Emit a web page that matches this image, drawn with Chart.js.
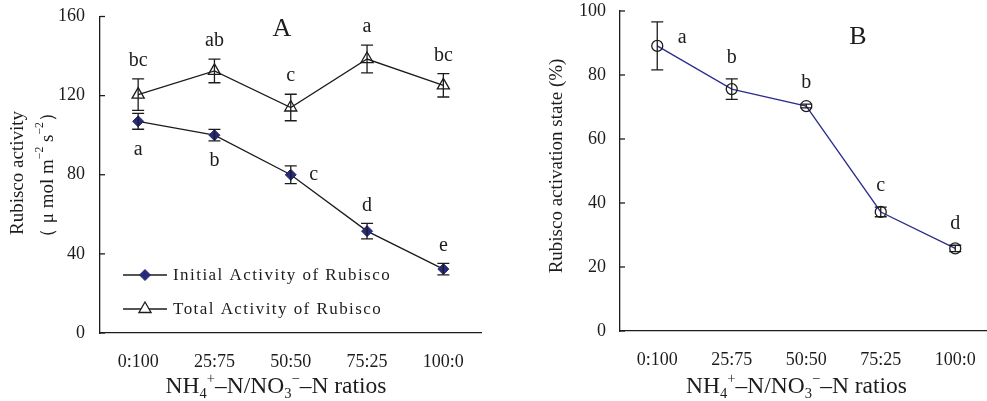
<!DOCTYPE html>
<html>
<head>
<meta charset="utf-8">
<script src="https://cdn.jsdelivr.net/npm/chart.js@4/dist/chart.umd.min.js"></script>
<style>
html, body { margin: 0; padding: 0; background: #fff; overflow: hidden; width: 987px; height: 401px; }
.wrap { position: absolute; top: 0; }
#wrapA { left: 0; width: 490px; height: 401px; }
#wrapB { left: 500px; width: 500px; height: 401px; }
</style>
</head>
<body>
<div class="wrap" id="wrapA"><canvas id="chartA" width="490" height="401"></canvas></div>
<div class="wrap" id="wrapB"><canvas id="chartB" width="500" height="401"></canvas></div>
<script>
// data

const categories = ['0:100', '25:75', '50:50', '75:25', '100:0'];

const initialActivity = [107, 100, 80, 51.5, 32.3];
const initialErr = [4, 2.9, 4.5, 3.9, 2.9];
const initialLetters = ['a', 'b', 'c', 'd', 'e'];

const totalActivity = [120.5, 132.5, 114, 138.5, 125.2];
const totalErr = [8, 6, 6.7, 7, 5.9];
const totalLetters = ['bc', 'ab', 'c', 'a', 'bc'];

const activationState = [89.1, 75.6, 70.3, 37.2, 25.8];
const activationErr = [7.5, 3.2, 0.6, 1.5, 1];
const activationLetters = ['a', 'b', 'b', 'c', 'd'];

const SERIF = "'Liberation Serif', 'Times New Roman', serif";
const INK = '#1c1c1c';

// x title pieces (sub / sup)
const xTitle = [
  { t: 'NH' }, { t: '4', s: 'sub' }, { t: '+', s: 'sup' }, { t: '\u2013N/NO' },
  { t: '3', s: 'sub' }, { t: '\u2212', s: 'sup' }, { t: '\u2013N ratios' }
];

function drawRich(ctx, parts, x, y, size, align) {
  let total = 0;
  parts.forEach(p => {
    ctx.font = (p.s ? size * 0.62 : size) + 'px ' + SERIF;
    total += ctx.measureText(p.t).width;
  });
  let cx = align === 'center' ? x - total / 2 : x;
  ctx.textAlign = 'left';
  parts.forEach(p => {
    const fs = p.s ? size * 0.62 : size;
    ctx.font = fs + 'px ' + SERIF;
    const dy = p.s === 'sub' ? size * 0.22 : p.s === 'sup' ? -size * 0.42 : 0;
    ctx.fillText(p.t, cx, y + dy);
    cx += ctx.measureText(p.t).width;
  });
}

// error bars + letters
const errorBars = {
  id: 'errorBars',
  afterDatasetsDraw(chart, args, opts) {
    const ctx = chart.ctx;
    const y = chart.scales.y;
    ctx.save();
    ctx.strokeStyle = INK;
    ctx.lineWidth = 1.3;
    chart.data.datasets.forEach((ds, i) => {
      const meta = chart.getDatasetMeta(i);
      meta.data.forEach((pt, j) => {
        const top = y.getPixelForValue(ds.data[j] + ds.errors[j]);
        const bot = y.getPixelForValue(ds.data[j] - ds.errors[j]);
        ctx.beginPath();
        ctx.moveTo(pt.x, top); ctx.lineTo(pt.x, bot);
        ctx.moveTo(pt.x - opts.cap, top); ctx.lineTo(pt.x + opts.cap, top);
        ctx.moveTo(pt.x - opts.cap, bot); ctx.lineTo(pt.x + opts.cap, bot);
        ctx.stroke();

        // significance letter
        const where = ds.letterPos[j];
        let lx = pt.x, ly;
        if (where === 'above') ly = top - opts.gap;
        else if (where === 'below') ly = bot + opts.gap + 2;
        else if (where === 'right') { lx = pt.x + 23; ly = pt.y; }
        else { lx = pt.x + 25; ly = pt.y - 8; }
        ctx.fillStyle = INK;
        ctx.font = '20px ' + SERIF;
        ctx.textAlign = 'center';
        ctx.textBaseline = 'middle';
        ctx.fillText(ds.letters[j], lx, ly);
      });
    });
    ctx.restore();
  }
};

// inward y ticks, titles, panel letter, legend
const decor = {
  id: 'decor',
  afterDraw(chart, args, opts) {
    const ctx = chart.ctx;
    const ys = chart.scales.y;
    const left = chart.chartArea.left;
    ctx.save();
    ctx.strokeStyle = INK;
    ctx.lineWidth = 1.3;
    ys.ticks.forEach(t => {
      const py = ys.getPixelForValue(t.value);
      ctx.beginPath();
      ctx.moveTo(left, py); ctx.lineTo(left + 5, py);
      ctx.stroke();
    });

    ctx.fillStyle = INK;
    ctx.textBaseline = 'alphabetic';
    drawRich(ctx, xTitle, opts.xTitleX, 393, 23.5, 'center');

    // y title
    ctx.save();
    ctx.translate(opts.yTitleX, opts.yTitleY);
    ctx.rotate(-Math.PI / 2);
    ctx.textBaseline = 'middle';
    ctx.font = '19px ' + SERIF;
    ctx.textAlign = 'center';
    ctx.fillText(opts.yTitle, 0, 0);
    ctx.restore();
    if (opts.yUnit) {
      ctx.save();
      ctx.translate(opts.yTitleX + 30, opts.yTitleY + 2);
      ctx.rotate(-Math.PI / 2);
      ctx.textBaseline = 'middle';
      drawRich(ctx, opts.yUnit, 0, 0, 19, 'center');
      ctx.restore();
    }

    // panel letter
    ctx.font = '26px ' + SERIF;
    ctx.textAlign = 'center';
    ctx.textBaseline = 'middle';
    ctx.fillText(opts.panel, opts.panelX, opts.panelY);

    // legend
    if (opts.legend) {
      chart.data.datasets.forEach((ds, i) => {
        const ly = opts.legendY[i];
        ctx.strokeStyle = ds.borderColor;
        ctx.lineWidth = ds.borderWidth;
        ctx.beginPath();
        ctx.moveTo(123, ly); ctx.lineTo(167, ly);
        ctx.stroke();
        ctx.fillStyle = ds.pointStyle === 'triangle' ? '#fff' : ds.pointBackgroundColor;
        ctx.strokeStyle = ds.pointBorderColor;
        ctx.lineWidth = ds.pointBorderWidth;
        Chart.helpers.drawPoint(ctx, {
          pointStyle: ds.pointStyle, radius: ds.pointRadius, borderWidth: ds.pointBorderWidth, rotation: 0
        }, 145, ly);
        ctx.fillStyle = INK;
        ctx.font = '17px ' + SERIF;
        ctx.letterSpacing = '1.45px';
        ctx.textAlign = 'left';
        ctx.textBaseline = 'middle';
        ctx.fillText(ds.label, 173, ly + 1);
        ctx.letterSpacing = '0px';
      });
    }
    ctx.restore();
  }
};

function axes(yMax, step, yWidth, xHeight, labelPad) {
  return {
    x: {
      offset: true,
      grid: { display: false, drawTicks: false },
      border: { color: INK, width: 1.3 },
      ticks: { color: INK, font: { family: SERIF, size: 18 }, padding: 18 },
      afterFit: s => { s.height = xHeight; s.paddingLeft = 0; s.paddingRight = 0; }
    },
    y: {
      min: 0, max: yMax,
      grid: { display: false, drawTicks: false },
      border: { color: INK, width: 1.3 },
      ticks: { stepSize: step, color: INK, font: { family: SERIF, size: 18 }, padding: labelPad },
      afterFit: s => { s.width = yWidth; s.paddingTop = 0; s.paddingBottom = 0; }
    }
  };
}

new Chart(document.getElementById('chartA'), {
  type: 'line',
  data: {
    labels: categories,
    datasets: [
      {
        label: 'Initial Activity of Rubisco',
        data: initialActivity, errors: initialErr, letters: initialLetters,
        letterPos: ['below', 'below', 'right', 'above', 'above'],
        borderColor: INK, borderWidth: 1.3, tension: 0,
        pointStyle: 'rectRot', pointRadius: 5.5,
        pointBackgroundColor: '#262a78', pointBorderColor: '#262a78', pointBorderWidth: 1
      },
      {
        label: 'Total Activity of Rubisco',
        data: totalActivity, errors: totalErr, letters: totalLetters,
        letterPos: ['above', 'above', 'above', 'above', 'above'],
        borderColor: INK, borderWidth: 1.3, tension: 0,
        pointStyle: 'triangle', pointRadius: 7,
        pointBackgroundColor: 'rgba(255,255,255,0)', pointBorderColor: INK, pointBorderWidth: 1.3
      }
    ]
  },
  options: {
    responsive: false, animation: false,
    layout: { padding: { top: 16.5, right: 8.5, left: 0, bottom: 0 } },
    plugins: {
      legend: { display: false }, tooltip: { enabled: false },
      errorBars: { cap: 6, gap: 18 },
      decor: {
        xTitleX: 276, yTitleX: 18, yTitleY: 173,
        yTitle: 'Rubisco activity',
        yUnit: [{ t: '\uff08 \u03bc mol m' }, { t: '\u22122', s: 'sup' }, { t: ' s' }, { t: '\u22122', s: 'sup' }, { t: '\uff09' }],
        panel: 'A', panelX: 282, panelY: 29,
        legend: true, legendY: [275, 309]
      }
    },
    scales: axes(160, 40, 100, 68, 15)
  },
  plugins: [errorBars, decor]
});

new Chart(document.getElementById('chartB'), {
  type: 'line',
  data: {
    labels: categories,
    datasets: [
      {
        label: 'Rubisco activation state',
        data: activationState, errors: activationErr, letters: activationLetters,
        letterPos: ['upright', 'above', 'above', 'above', 'above'],
        borderColor: '#2b2e8c', borderWidth: 1.3, tension: 0,
        pointStyle: 'circle', pointRadius: 5.5,
        pointBackgroundColor: 'rgba(255,255,255,0)', pointBorderColor: INK, pointBorderWidth: 1.3
      }
    ]
  },
  options: {
    responsive: false, animation: false,
    layout: { padding: { top: 11, right: 7.5, left: 0, bottom: 0 } },
    plugins: {
      legend: { display: false }, tooltip: { enabled: false },
      errorBars: { cap: 6, gap: 21 },
      decor: {
        xTitleX: 296.5, yTitleX: 57, yTitleY: 166,
        yTitle: 'Rubisco activation state (%)',
        panel: 'B', panelX: 358, panelY: 37,
        legend: false
      }
    },
    scales: axes(100, 20, 120, 70, 14)
  },
  plugins: [errorBars, decor]
});
</script>
</body>
</html>
